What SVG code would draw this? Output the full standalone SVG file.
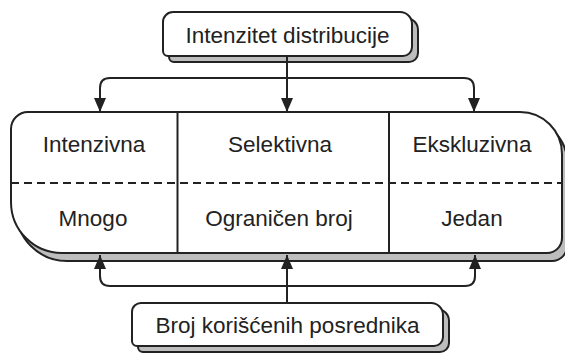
<svg xmlns="http://www.w3.org/2000/svg" width="565" height="355" viewBox="0 0 565 355">
  <style>
    .shape { fill: #ffffff; stroke: #222222; stroke-width: 2; }
    .shadow { fill: #bdbdbd; stroke: #222222; stroke-width: 2; }
    .line { fill: none; stroke: #222222; stroke-width: 2; }
    .dash { fill: none; stroke: #222222; stroke-width: 2; stroke-dasharray: 8 5; }
    .label { font-family: "Liberation Sans", Arial, sans-serif; font-size: 22.5px; fill: #222222; text-anchor: middle; }
  </style>
  <defs>
    <marker id="arrow" viewBox="0 0 14 12" refX="14" refY="6" markerWidth="14" markerHeight="12" markerUnits="userSpaceOnUse" orient="auto">
      <path d="M0,0 L14,6 L0,12 Z" fill="#222222"/>
    </marker>
  </defs>

  <!-- top node -->
  <g id="intenzitet">
    <path class="shadow" d="M179,18 L406,18 A12,12 0 0 1 418,30 L418,53 A9,9 0 0 1 409,62 L174,62 A5,5 0 0 1 169,57 L169,28 A10,10 0 0 1 179,18 Z"/>
    <path class="shape" d="M173,12 L400,12 A12,12 0 0 1 412,24 L412,47 A9,9 0 0 1 403,56 L168,56 A5,5 0 0 1 163,51 L163,22 A10,10 0 0 1 173,12 Z"/>
    <text class="label" x="287.5" y="43">Intenzitet distribucije</text>
  </g>

  <!-- main table node -->
  <g id="tabela">
    <path class="shadow" d="M33,120 L525,120 A42,42 0 0 1 567,162 L567,246 A15,15 0 0 1 552,261 L67,261 A51,51 0 0 1 16,210 L16,138 A17,17 0 0 1 33,120 Z"/>
    <path class="shape" d="M28,112 L520,112 A42,42 0 0 1 562,154 L562,238 A15,15 0 0 1 547,253 L62,253 A51,51 0 0 1 11,202 L11,129 A17,17 0 0 1 28,112 Z"/>
    <line class="dash" x1="11" y1="183" x2="562" y2="183"/>
    <line class="line" x1="177.5" y1="112" x2="177.5" y2="253"/>
    <line class="line" x1="389" y1="112" x2="389" y2="253"/>
    <text class="label" x="94" y="152">Intenzivna</text>
    <text class="label" x="93" y="226">Mnogo</text>
    <text class="label" x="280" y="152">Selektivna</text>
    <text class="label" x="279" y="226">Ograničen broj</text>
    <text class="label" x="472" y="152">Ekskluzivna</text>
    <text class="label" x="472" y="226">Jedan</text>
  </g>

  <!-- bottom node -->
  <g id="broj">
    <path class="shadow" d="M148,309 L437,309 A12,12 0 0 1 449,321 L449,343 A9,9 0 0 1 440,352 L143,352 A5,5 0 0 1 138,347 L138,318 A9,9 0 0 1 148,309 Z"/>
    <path class="shape" d="M142,303 L431,303 A12,12 0 0 1 443,315 L443,337 A9,9 0 0 1 434,346 L137,346 A5,5 0 0 1 132,341 L132,312 A9,9 0 0 1 142,303 Z"/>
    <text class="label" x="287.5" y="333">Broj korišćenih posrednika</text>
  </g>

  <!-- connectors -->
  <g id="connectors">
    <path class="line" d="M287,57 L287,112" marker-end="url(#arrow)"/>
    <path class="line" d="M110,78 L464,78"/>
    <path class="line" d="M110,78 Q100,78 100,88 L100,112" marker-end="url(#arrow)"/>
    <path class="line" d="M464,78 Q474,78 474,88 L474,112" marker-end="url(#arrow)"/>
    <path class="line" d="M287,303 L287,255" marker-end="url(#arrow)"/>
    <path class="line" d="M110,286 L465,286"/>
    <path class="line" d="M110,286 Q100,286 100,276 L100,255" marker-end="url(#arrow)"/>
    <path class="line" d="M465,286 Q475,286 475,276 L475,255" marker-end="url(#arrow)"/>
  </g>
</svg>
